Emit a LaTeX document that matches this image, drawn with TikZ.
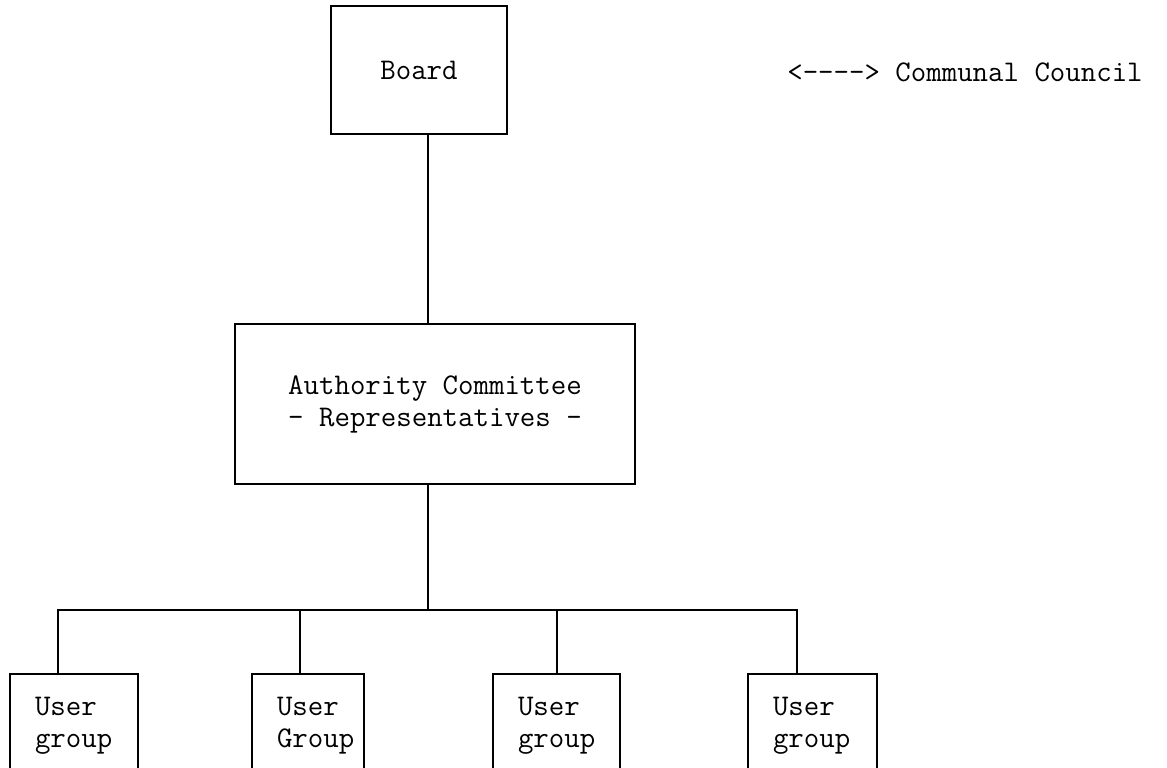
\documentclass[tikz,border=0pt]{standalone}
\begin{document}
\begin{tikzpicture}[x=1pt,y=1pt,font=\ttfamily\fontsize{30}{32}\selectfont,
 box/.style={draw,line width=2pt,inner sep=0pt,align=center},
 ugroup/.style={draw,line width=2pt,minimum height=104pt,inner xsep=25pt,
   inner ysep=0pt,align=left,text width=#1},
 wire/.style={draw,line width=2pt}]
\path[use as bounding box] (0,0) rectangle (1167,768);
\clip (0,0) rectangle (1167,768);
\coordinate (spine) at (428,364);
\coordinate (bus) at (428,158);
\coordinate (d1) at (58,158);
\coordinate (d2) at (300,158);
\coordinate (d3) at (557,158);
\coordinate (d4) at (797,158);
\node[box,minimum width=176pt,minimum height=128pt] (board) at (419,698) {Board};
\node[box,minimum width=400pt,minimum height=160pt] (auth) at (435,364)
 {Authority Committee\\- Representatives -};
\node (comm) at (965,696) {<-{}-{}-{}-> Communal Council};
% bottom boxes run past the lower edge of the page
\node[ugroup=78pt] (u1) at (74,42) {User\\group};
\node[ugroup=62pt] (u2) at (308,42) {User\\Group};
\node[ugroup=77pt] (u3) at (556.5,42) {User\\group};
\node[ugroup=79pt] (u4) at (812.5,42) {User\\group};
\draw[wire] (board.south -| spine) -- (auth.north -| spine);
\draw[wire] (auth.south -| spine) -- (bus);
\draw[wire] (d1 |- u1.north) -- (d1) -- (d4) -- (d4 |- u4.north);
\foreach \i in {2,3} \draw[wire] (d\i) -- (d\i |- u\i.north);
\end{tikzpicture}
\end{document}
